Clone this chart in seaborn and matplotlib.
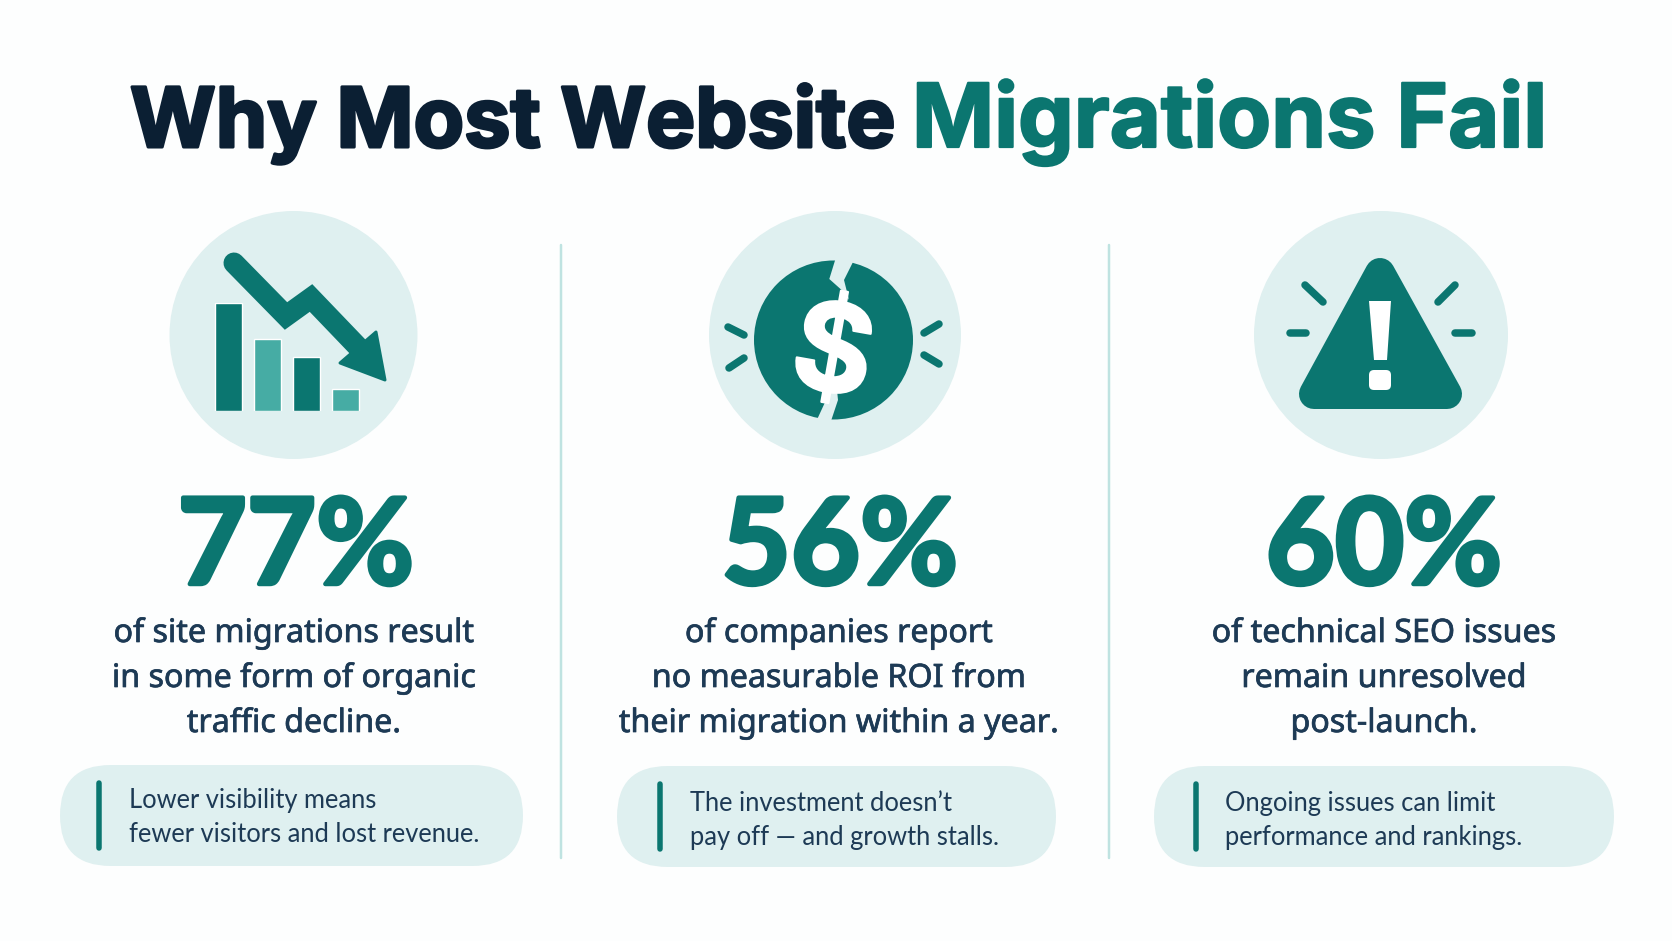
import matplotlib
matplotlib.use("Agg")
import matplotlib.pyplot as plt
import matplotlib.patheffects as pe
from matplotlib.patches import Circle, Ellipse, FancyBboxPatch, Polygon
import pandas as pd
import seaborn as sns

# Chart content
title_dark = "Why Most Website"
title_teal = "Migrations Fail"
percents = ["77%", "56%", "60%"]
statements = [
    ["of site migrations result", "in some form of organic", "traffic decline."],
    ["of companies report", "no measurable ROI from", "their migration within a year."],
    ["of technical SEO issues", "remain unresolved", "post-launch."],
]
notes = [
    ["Lower visibility means", "fewer visitors and lost revenue."],
    ["The investment doesn\u2019t", "pay off \u2014 and growth stalls."],
    ["Ongoing issues can limit", "performance and rankings."],
]
icon_bar_labels = ["a", "b", "c", "d"]
icon_bar_values = [108, 72, 54, 22]

TEAL = "#0b7670"
MID = "#46aca4"
PALE = "#dff0f0"
NAVY = "#0b1f33"
SLATE = "#1d3a55"
W, H = 1672, 941

sns.set_theme(style="white")
plt.rcParams["font.family"] = ["Lato", "Noto Sans", "DejaVu Sans"]

fig = plt.figure(figsize=(W / 100, H / 100), dpi=100, facecolor="#fdfefe")
ax = fig.add_axes([0, 0, 1, 1])
ax.set_xlim(0, W)
ax.set_ylim(H, 0)
ax.axis("off")


def px(v):
    return v * 0.72


def stroke(t, w, color):
    t.set_path_effects([pe.Stroke(linewidth=w, foreground=color), pe.Normal()])


def tick(x0, y0, x1, y1, lw=7.5):
    ax.plot([x0, x1], [y0, y1], color=TEAL, lw=px(lw), solid_capstyle="round")


# Title
t = ax.text(130, 147, title_dark, color=NAVY, fontsize=59.5, fontweight="bold", va="baseline",
            family=["Inter", "DejaVu Sans"])
stroke(t, 2.2, NAVY)
t = ax.text(912, 147, title_teal, color=TEAL, fontsize=63.5, fontweight="bold", va="baseline",
            family=["Inter", "DejaVu Sans"])
stroke(t, 1.6, TEAL)

# Dividers
for x in [561, 1109]:
    ax.plot([x, x], [245, 858], color="#bfe3e1", lw=px(2.5))

# Icon backgrounds
for cx, w in [(293.5, 248), (835, 252), (1381, 254)]:
    ax.add_patch(Ellipse((cx, 335), w, 248, color=PALE, lw=0))

# Icon 1: falling bars and arrow
inset = fig.add_axes([208.5 / W, 1 - 411 / H, 157 / W, 108 / H])
sns.barplot(
    data=pd.DataFrame({"k": icon_bar_labels, "v": icon_bar_values}),
    x="k", y="v", hue="k", palette=[TEAL, MID, TEAL, MID],
    width=0.69, legend=False, ax=inset, saturation=1,
)
inset.set_xlim(-0.5, 3.5)
inset.set_ylim(0, 108)
inset.axis("off")

ax.plot([234, 286, 311, 358], [263, 316, 298, 347], color=TEAL, lw=px(21),
        solid_capstyle="round", solid_joinstyle="miter")
ax.add_patch(Polygon([(376, 332), (340, 363), (385, 380)], closed=True, fc=TEAL, ec=TEAL,
                     lw=px(3), joinstyle="round"))

# Icon 2: split coin
ax.add_patch(Circle((833.5, 340), 79.5, color=TEAL, lw=0))
ax.add_patch(Polygon([(836.7, 255), (829.3, 279), (845, 293), (849, 300), (844, 280), (855, 258)],
                     closed=True, color=PALE, lw=0))
ax.add_patch(Polygon([(823, 390), (827, 398), (815, 424), (830, 424), (838, 400), (837, 390)],
                     closed=True, color=PALE, lw=0))
t = ax.text(832, 340, "$", color="white", fontsize=88, fontweight="bold", ha="center",
            va="center_baseline", rotation=-10, family=["Inter", "DejaVu Sans"])
stroke(t, 1.5, "white")
tick(728, 327, 744, 335)
tick(729, 368, 744, 358)
tick(924, 333, 939, 324)
tick(924, 355, 939, 364)

# Icon 3: warning sign
ax.add_patch(Polygon([(1314, 394), (1447, 394), (1380, 273)], closed=True, fc=TEAL, ec=TEAL,
                     lw=px(30), joinstyle="round"))
ax.add_patch(Polygon([(1369, 301), (1391, 301), (1387, 360), (1374, 360)], closed=True,
                     color="white", lw=0))
ax.add_patch(FancyBboxPatch((1372, 373), 16, 14, boxstyle="round,pad=3,rounding_size=5",
                            color="white", lw=0))
tick(1305, 285, 1323, 302)
tick(1455, 285, 1438, 302)
tick(1290, 333, 1306, 333)
tick(1455, 333, 1472, 333)

# Column text
num_x = [296, 840, 1384]
body_x = [294, 839, 1384]
for i in range(3):
    t = ax.text(num_x[i], 584, percents[i], color=TEAL, fontsize=86, fontweight="bold",
                ha="center", va="baseline")
    stroke(t, 3.2, TEAL)
    for line, y in zip(statements[i], [642, 687, 732]):
        t = ax.text(body_x[i], y, line, color=SLATE, fontsize=23.2, ha="center", va="baseline",
                    family=["Noto Sans", "DejaVu Sans"], fontweight="medium")
        stroke(t, 0.5, SLATE)

# Note pills
pills = [(60, 523, 765, 866), (617, 1056, 766, 867), (1154, 1614, 766, 867)]
bars_x = [99, 660, 1196]
text_x = [129, 690, 1225]
text_y = [(808, 842), (811, 845), (811, 845)]
for i, (x0, x1, y0, y1) in enumerate(pills):
    h = y1 - y0
    ax.add_patch(FancyBboxPatch((x0 + h / 2, y0 + h / 2), x1 - x0 - h, 0,
                                boxstyle=f"round,pad={h / 2 - 0.01},rounding_size={h / 2}",
                                color=PALE, lw=0))
    ax.plot([bars_x[i]] * 2, [y0 + 18, y0 + 83], color=TEAL, lw=px(5.5), solid_capstyle="round")
    for line, y in zip(notes[i], text_y[i]):
        ax.text(text_x[i], y, line, color=SLATE, fontsize=18.4, va="baseline")

fig.savefig("out.png", dpi=100, facecolor=fig.get_facecolor())
